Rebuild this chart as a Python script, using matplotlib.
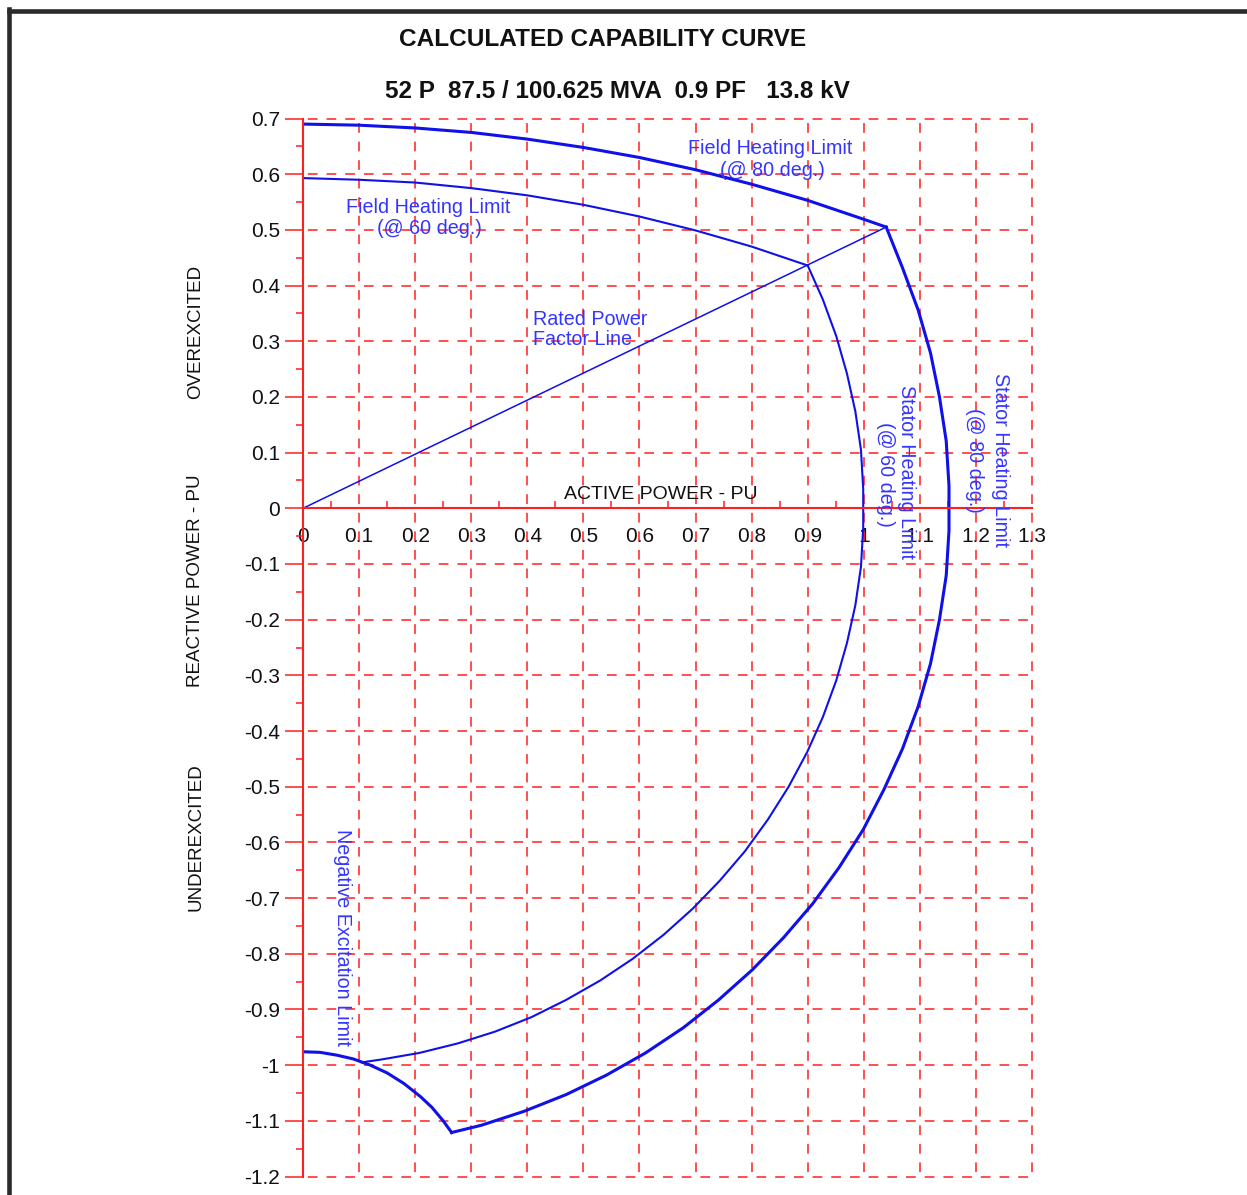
import matplotlib

matplotlib.use("Agg")
import matplotlib.pyplot as plt
from matplotlib.lines import Line2D
from matplotlib.ticker import MultipleLocator, FixedLocator, FixedFormatter

plt.rcParams["font.family"] = ["Liberation Sans", "DejaVu Sans"]
plt.rcParams["lines.scale_dashes"] = False

TITLE = "CALCULATED CAPABILITY CURVE"
SUBTITLE = "52 P  87.5 / 100.625 MVA  0.9 PF   13.8 kV"

# curves (P, Q in pu)
field80_p = [0.0, 0.1, 0.2, 0.3, 0.4, 0.5, 0.6, 0.7, 0.8, 0.9, 0.95, 1.0, 1.04]
field80_q = [0.690, 0.688, 0.683, 0.675, 0.663, 0.648, 0.630, 0.608, 0.582, 0.553, 0.536, 0.519, 0.505]

field60_p = [0.0, 0.1, 0.2, 0.3, 0.4, 0.5, 0.6, 0.7, 0.8, 0.85, 0.9]
field60_q = [0.593, 0.590, 0.585, 0.575, 0.562, 0.545, 0.524, 0.499, 0.470, 0.453, 0.436]

pf_p = [0.0, 1.04]
pf_q = [0.0, 0.505]

stator60_p = [0.900, 0.927, 0.951, 0.970, 0.985, 0.995, 0.999, 0.999, 0.995, 0.985, 0.970,
              0.951, 0.927, 0.899, 0.866, 0.829, 0.788, 0.743, 0.695, 0.643, 0.588, 0.530,
              0.469, 0.407, 0.342, 0.276, 0.208, 0.139, 0.105]
stator60_q = [0.436, 0.375, 0.309, 0.242, 0.174, 0.105, 0.035, -0.035, -0.105, -0.174, -0.242,
              -0.309, -0.375, -0.438, -0.500, -0.559, -0.616, -0.669, -0.719, -0.766, -0.809, -0.848,
              -0.883, -0.914, -0.940, -0.961, -0.978, -0.990, -0.995]

stator80_p = [1.040, 1.069, 1.097, 1.119, 1.135, 1.147, 1.152, 1.152, 1.147, 1.135, 1.119,
              1.097, 1.069, 1.036, 0.999, 0.956, 0.909, 0.857, 0.801, 0.741, 0.678, 0.611,
              0.541, 0.469, 0.394, 0.318, 0.265]
stator80_q = [0.505, 0.432, 0.356, 0.279, 0.200, 0.121, 0.040, -0.040, -0.121, -0.200, -0.279,
              -0.356, -0.432, -0.505, -0.577, -0.645, -0.710, -0.771, -0.829, -0.883, -0.933, -0.978,
              -1.018, -1.053, -1.083, -1.108, -1.121]

negexc_p = [0.0, 0.03, 0.06, 0.09, 0.12, 0.15, 0.18, 0.21, 0.23, 0.25, 0.265]
negexc_q = [-0.976, -0.977, -0.982, -0.989, -1.000, -1.014, -1.033, -1.057, -1.076, -1.100, -1.121]

x_ticks = [0.0, 0.1, 0.2, 0.3, 0.4, 0.5, 0.6, 0.7, 0.8, 0.9, 1.0, 1.1, 1.2, 1.3]
x_tick_labels = ["0", "0.1", "0.2", "0.3", "0.4", "0.5", "0.6", "0.7", "0.8", "0.9", "1", "1.1", "1.2", "1.3"]
y_ticks = [0.7, 0.6, 0.5, 0.4, 0.3, 0.2, 0.1, 0.0, -0.1, -0.2, -0.3, -0.4, -0.5, -0.6,
           -0.7, -0.8, -0.9, -1.0, -1.1, -1.2]
y_tick_labels = ["0.7", "0.6", "0.5", "0.4", "0.3", "0.2", "0.1", "0", "-0.1", "-0.2", "-0.3", "-0.4",
                 "-0.5", "-0.6", "-0.7", "-0.8", "-0.9", "-1", "-1.1", "-1.2"]

RED = "#ff1f1f"
BLUE = "#1010e8"
TXT_BLUE = "#3535ff"

W, H = 1247, 1195
fig = plt.figure(figsize=(W / 100, H / 100), dpi=100)
ax = fig.add_axes([303 / W, 1 - 1176.5 / H, 729 / W, 1058 / H])
ax.set_xlim(0, 1.3)
ax.set_ylim(-1.2, 0.7)

# page frame (screenshot border)
fig.add_artist(Line2D([8.5 / W, 8.5 / W], [0, 1 - 8.5 / H], color="#2b2b2b", lw=3.3))
fig.add_artist(Line2D([8.5 / W, 1], [1 - 10.5 / H, 1 - 10.5 / H], color="#2b2b2b", lw=3.3))

# dashed grid, dashes centred on every intersection
dash_on = 7.0
per_x = 56.08 / 3 * 0.72
per_y = 55.68 / 3 * 0.72
for y in y_ticks:
    if y == 0.0:
        continue
    ax.plot([0, 1.3], [y, y], color=RED, lw=1.1, clip_on=False,
            linestyle=(dash_on / 2 + per_x - dash_on, (dash_on, per_x - dash_on)))
for x in x_ticks[1:]:
    ax.plot([x, x], [-1.2, 0.7], color=RED, lw=1.1, clip_on=False,
            linestyle=(dash_on / 2 + per_y - dash_on, (dash_on, per_y - dash_on)))

# axes through the origin
for side in ["top", "right"]:
    ax.spines[side].set_visible(False)
ax.spines["bottom"].set_position(("data", 0))
ax.spines["left"].set_color(RED)
ax.spines["bottom"].set_color(RED)
ax.spines["left"].set_linewidth(1.5)
ax.spines["bottom"].set_linewidth(1.5)

ax.xaxis.set_major_locator(FixedLocator(x_ticks))
ax.xaxis.set_major_formatter(FixedFormatter(x_tick_labels))
ax.xaxis.set_minor_locator(MultipleLocator(0.05))
ax.yaxis.set_major_locator(FixedLocator(y_ticks))
ax.yaxis.set_major_formatter(FixedFormatter(y_tick_labels))
ax.yaxis.set_minor_locator(MultipleLocator(0.05))
ax.tick_params(axis="x", which="major", length=0, pad=13.5, labelsize=15, labelcolor="#111111")
ax.tick_params(axis="x", which="minor", direction="in", length=5, width=1.1, color=RED)
ax.tick_params(axis="y", which="major", direction="out", length=13, width=1.1, color=RED,
               pad=3.5, labelsize=15, labelcolor="#111111")
ax.tick_params(axis="y", which="minor", direction="out", length=5, width=1.1, color=RED)

# capability curves
ax.plot(field80_p, field80_q, color=BLUE, lw=2.2, solid_joinstyle="round")
ax.plot(field60_p, field60_q, color=BLUE, lw=1.5, solid_joinstyle="round")
ax.plot(pf_p, pf_q, color=BLUE, lw=1.1)
ax.plot(stator60_p, stator60_q, color=BLUE, lw=1.5, solid_joinstyle="round")
ax.plot(stator80_p, stator80_q, color=BLUE, lw=2.2, solid_joinstyle="round")
ax.plot(negexc_p, negexc_q, color=BLUE, lw=2.2, solid_joinstyle="round")

# curve labels
fs = 14.2
ax.text(0.833, 0.646, "Field Heating Limit", color=TXT_BLUE, fontsize=fs, ha="center", va="center")
ax.text(0.838, 0.607, "(@ 80 deg.)", color=TXT_BLUE, fontsize=fs, ha="center", va="center")
ax.text(0.223, 0.540, "Field Heating Limit", color=TXT_BLUE, fontsize=fs, ha="center", va="center")
ax.text(0.226, 0.503, "(@ 60 deg.)", color=TXT_BLUE, fontsize=fs, ha="center", va="center")
ax.text(0.410, 0.339, "Rated Power", color=TXT_BLUE, fontsize=fs, ha="left", va="center")
ax.text(0.410, 0.303, "Factor Line", color=TXT_BLUE, fontsize=fs, ha="left", va="center")
ax.text(1.076, 0.065, "Stator Heating Limit", color=TXT_BLUE, fontsize=fs, ha="center", va="center", rotation=-90)
ax.text(1.038, 0.061, "(@ 60 deg.)", color=TXT_BLUE, fontsize=fs, ha="center", va="center", rotation=-90)
ax.text(1.243, 0.086, "Stator Heating Limit", color=TXT_BLUE, fontsize=fs, ha="center", va="center", rotation=-90)
ax.text(1.198, 0.086, "(@ 80 deg.)", color=TXT_BLUE, fontsize=fs, ha="center", va="center", rotation=-90)
ax.text(0.071, -0.770, "Negative Excitation Limit", color=TXT_BLUE, fontsize=fs, ha="center", va="center", rotation=-90)

ax.text(0.638, 0.024, "ACTIVE POWER - PU", color="#111111", fontsize=14, ha="center", va="center")

fig.text(196 / W, 1 - 581 / H, "REACTIVE POWER - PU", rotation=90, fontsize=13.5, ha="center", va="center", color="#111111")
fig.text(196 / W, 1 - 332 / H, "OVEREXCITED", rotation=90, fontsize=13.5, ha="center", va="center", color="#111111")
fig.text(196 / W, 1 - 837 / H, "UNDEREXCITED", rotation=90, fontsize=13.5, ha="center", va="center", color="#111111")

fig.text(603 / W, 1 - 40 / H, TITLE, fontsize=17.6, fontweight="bold", ha="center", va="center", color="#111111")
fig.text(617 / W, 1 - 92 / H, SUBTITLE, fontsize=17.5, fontweight="bold", ha="center", va="center", color="#111111")

fig.savefig("out.png", dpi=100)
